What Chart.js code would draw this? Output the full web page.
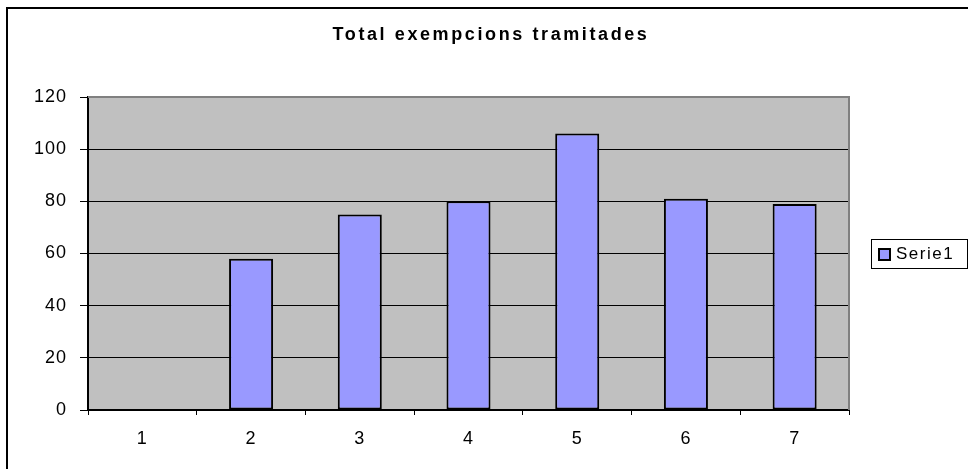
<!DOCTYPE html>
<html>
<head>
<meta charset="utf-8">
<script src="https://cdn.jsdelivr.net/npm/chart.js@4/dist/chart.umd.min.js"></script>
<style>
  html, body { margin: 0; padding: 0; background: #fff; }
  #wrap { width: 968px; height: 469px; position: relative; }
</style>
</head>
<body>
<div id="wrap"><canvas id="c" width="968" height="469"></canvas></div>
<script>
const chartTitle = 'Total exempcions tramitades';
const categories = ['1', '2', '3', '4', '5', '6', '7'];
const seriesName = 'Serie1';
const seriesValues = [null, 58, 75, 80, 106, 81, 79];
const yTicks = [0, 20, 40, 60, 80, 100, 120];

const FONT = "'Liberation Sans', Arial, sans-serif";

const decor = {
  id: 'decor',
  beforeDraw(chart) {
    const ctx = chart.ctx, a = chart.chartArea;
    ctx.save();
    ctx.fillStyle = '#fff';
    ctx.fillRect(0, 0, chart.width, chart.height);
    ctx.strokeStyle = '#000';
    ctx.lineWidth = 2;
    ctx.strokeRect(7, 8, 1000, 500);
    ctx.fillStyle = '#C0C0C0';
    ctx.fillRect(a.left, a.top, a.right - a.left, a.bottom - a.top);
    ctx.restore();
    ctx.letterSpacing = '1px';
  },
  afterDatasetsDraw(chart) {
    const ctx = chart.ctx, a = chart.chartArea;
    ctx.save();
    ctx.strokeStyle = '#808080';
    ctx.lineWidth = 2;
    ctx.beginPath();
    ctx.moveTo(a.left, a.top);
    ctx.lineTo(a.right, a.top);
    ctx.lineTo(a.right, a.bottom);
    ctx.stroke();
    ctx.restore();
  },
  afterDraw(chart) {
    const ctx = chart.ctx;
    ctx.save();
    ctx.letterSpacing = '2.6px';
    ctx.fillStyle = '#000';
    ctx.font = 'bold 18px ' + FONT;
    ctx.textAlign = 'center';
    ctx.textBaseline = 'middle';
    ctx.fillText(chartTitle, 491, 35);
    const ds = chart.data.datasets[0];
    const lx = 871, ly = 239, lw = 96, lh = 29;
    ctx.fillStyle = '#fff';
    ctx.fillRect(lx, ly, lw, lh);
    ctx.strokeStyle = '#000';
    ctx.lineWidth = 1;
    ctx.strokeRect(lx + 0.5, ly + 0.5, lw, lh);
    ctx.fillStyle = ds.backgroundColor;
    ctx.fillRect(878, 248, 12, 12);
    ctx.lineWidth = 2;
    ctx.strokeRect(879, 249, 11, 11);
    ctx.letterSpacing = '1.5px';
    ctx.fillStyle = '#000';
    ctx.font = '17px ' + FONT;
    ctx.textAlign = 'left';
    ctx.textBaseline = 'middle';
    ctx.fillText(ds.label, 896, 254);
    ctx.restore();
  }
};

new Chart(document.getElementById('c'), {
  type: 'bar',
  data: {
    labels: categories,
    datasets: [{
      label: seriesName,
      data: seriesValues,
      backgroundColor: '#9999FF',
      borderColor: '#000',
      borderWidth: 2,
      borderSkipped: false,
      categoryPercentage: 1,
      barPercentage: 0.405
    }]
  },
  options: {
    responsive: false,
    animation: false,
    devicePixelRatio: 1,
    layout: { padding: { left: 0, top: 97, right: 119, bottom: 0 } },
    plugins: {
      legend: { display: false },
      title: { display: false },
      tooltip: { enabled: false }
    },
    scales: {
      x: {
        offset: true,
        grid: { display: true, offset: true, drawOnChartArea: false, color: '#000', tickLength: 5, lineWidth: 1 },
        border: { color: '#000', width: 2 },
        ticks: { color: '#000', font: { family: FONT, size: 18 }, padding: 13, maxRotation: 0 },
        afterFit(s) { s.height = 59; }
      },
      y: {
        min: 0, max: 120,
        afterBuildTicks(s) { s.ticks = yTicks.map(v => ({ value: v })); },
        grid: { color: '#000', tickLength: 8, lineWidth: 1 },
        border: { color: '#000', width: 2 },
        ticks: { color: '#000', font: { family: FONT, size: 18 }, padding: 13 },
        afterFit(s) { s.width = 88; }
      }
    }
  },
  plugins: [decor]
});
</script>
</body>
</html>
